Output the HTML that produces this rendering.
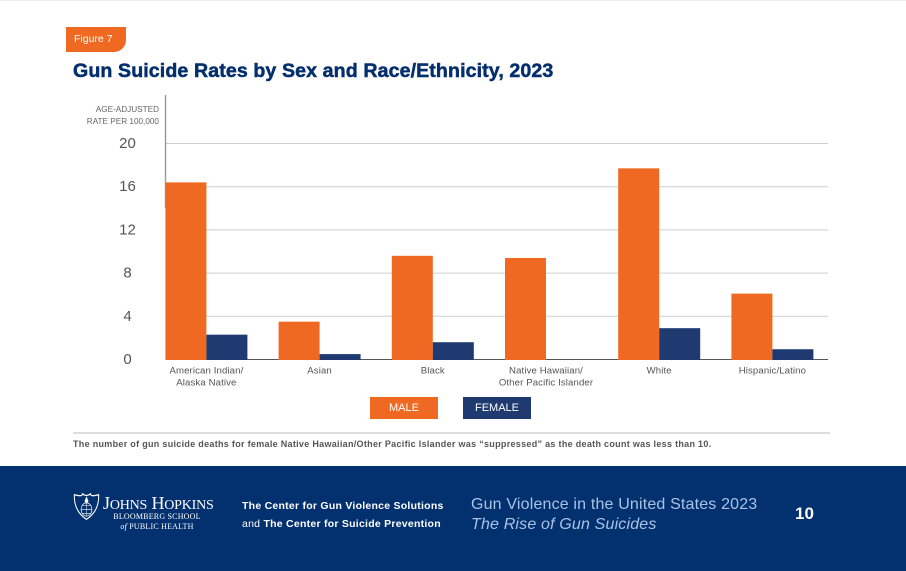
<!DOCTYPE html>
<html lang="en">
<head>
<meta charset="utf-8">
<title>Gun Suicide Rates by Sex and Race/Ethnicity, 2023</title>
<style>
html,body{margin:0;padding:0;background:#fff;}
#page{position:relative;width:906px;height:571px;overflow:hidden;background:#fff;font-family:"Liberation Sans",sans-serif;}
#page div{position:absolute;white-space:nowrap;}
svg{position:absolute;left:0;top:0;}
svg text{font-family:"Liberation Sans",sans-serif;}
</style>
</head>
<body>
<div id="page">
  <div style="left:0;top:0;width:906px;height:1px;background:#eee;"></div>
  <div style="left:66px;top:27px;width:60px;height:25px;background:#f06923;border-radius:0 0 12px 0;color:#fff;font-size:10.5px;line-height:25px;text-indent:8px;">Figure 7</div>
  <div style="left:73px;top:59.5px;font-size:19.6px;line-height:22px;font-weight:bold;color:#042f6e;-webkit-text-stroke:0.5px #042f6e;letter-spacing:0.1px;">Gun Suicide Rates by Sex and Race/Ethnicity, 2023</div>

  <svg id="chart" width="906" height="430" viewBox="0 0 906 430"></svg>

  <div style="left:370px;top:397px;width:68px;height:22px;background:#f06923;color:#fff;font-size:11px;line-height:22px;text-align:center;">MALE</div>
  <div style="left:463px;top:397px;width:68px;height:22px;background:#1f3a70;color:#fff;font-size:11px;line-height:22px;text-align:center;">FEMALE</div>

  <div style="left:73px;top:432px;width:757px;height:2px;background:#ddd;"></div>
  <div style="left:73px;top:438px;font-size:9px;line-height:13px;font-weight:bold;color:#555;letter-spacing:0.3px;">The number of gun suicide deaths for female Native Hawaiian/Other Pacific Islander was “suppressed” as the death count was less than 10.</div>

  <div style="left:0;top:466px;width:906px;height:105px;background:#03316f;">
    <svg width="27" height="28" viewBox="0 0 40 34" preserveAspectRatio="none" style="left:72.5px;top:26.5px;">
      <path d="M2 2 Q14 5 14 1 Q20 5 26 1 Q26 5 38 2 Q39 22 20 32 Q1 22 2 2 Z" fill="none" stroke="#fff" stroke-width="1.5"/>
      <path d="M20 4 L23 10 L20 13 L17 10 Z" fill="#fff"/>
      <circle cx="20" cy="20" r="8" fill="none" stroke="#fff" stroke-width="1"/>
      <path d="M12 20 H28 M20 12 V28 M14 15 H26 M14 25 H26" stroke="#fff" stroke-width="0.7" fill="none"/>
    </svg>
    <div style="left:103px;top:27px;font-family:'Liberation Serif',serif;font-size:18px;line-height:20px;color:#fff;letter-spacing:-0.2px;">J<span style="font-size:14px;">OHNS</span> H<span style="font-size:14px;">OPKINS</span></div>
    <div style="left:107px;top:46px;width:100px;text-align:center;font-family:'Liberation Serif',serif;font-size:8px;line-height:9.5px;color:#fff;letter-spacing:0.2px;white-space:normal;">BLOOMBERG SCHOOL<br><i>of</i> PUBLIC HEALTH</div>
    <div style="left:242px;top:31px;font-size:10.5px;line-height:18px;color:#fff;letter-spacing:0.25px;"><b>The Center for Gun Violence Solutions</b><br>and <b>The Center for Suicide Prevention</b></div>
    <div style="left:471px;top:29px;font-size:16px;line-height:20px;color:#a9c3e6;letter-spacing:0.17px;">Gun Violence in the United States 2023<br><i>The Rise of Gun Suicides</i></div>
    <div style="left:795px;top:37px;font-size:17px;line-height:22px;font-weight:bold;color:#fff;">10</div>
  </div>
</div>

<script>
const categories = [
  ["American Indian/", "Alaska Native"],
  ["Asian"],
  ["Black"],
  ["Native Hawaiian/", "Other Pacific Islander"],
  ["White"],
  ["Hispanic/Latino"]
];
const maleValues = [16.4, 3.5, 9.6, 9.4, 17.7, 6.1];
const femaleValues = [2.3, 0.5, 1.6, null, 2.9, 0.95];
const yTicks = [0, 4, 8, 12, 16, 20];
const yAxisTitle = ["AGE-ADJUSTED", "RATE PER 100,000"];

const svgNS = "http://www.w3.org/2000/svg";
const chart = document.getElementById("chart");
const plotLeft = 166, plotRight = 828, baseY = 359.5, topY = 143.5, yMax = 20;
const bandStart = 149.8, bandStep = 113.2, barW = 41;

function yScale(v) { return baseY - (v / yMax) * (baseY - topY); }
function xCenter(i) { return bandStart + bandStep * (i + 0.5); }
function make(tag, attrs, text) {
  const el = document.createElementNS(svgNS, tag);
  for (const k in attrs) el.setAttribute(k, attrs[k]);
  if (text !== undefined) el.textContent = text;
  chart.appendChild(el);
  return el;
}

yTicks.forEach(function (t) {
  if (t !== 0) {
    const grid = make("line", { x1: plotLeft, x2: plotRight, y1: yScale(t), y2: yScale(t), stroke: "#cfcfcf", "stroke-width": 1 });
    
    
  }
  const label = make("text", { x: 127.5, y: yScale(t) + 4.5, "text-anchor": "middle", "font-size": 15, fill: "#555" }, String(t));
  
  
});

yAxisTitle.forEach(function (line, i) {
  const title = make("text", { x: 159, y: 112 + i * 12, "text-anchor": "end", "font-size": 8.2, fill: "#666" }, line);
  
  
});

const yAxis = make("line", { x1: 165.5, x2: 165.5, y1: 95, y2: 208, stroke: "#999", "stroke-width": 1.4 });



const xAxis = make("line", { x1: plotLeft, x2: plotRight, y1: baseY, y2: baseY, stroke: "#555", "stroke-width": 1 });



categories.forEach(function (lines, i) {
  const c = xCenter(i);
  if (maleValues[i] !== null) {
    const top = yScale(maleValues[i]);
    const bar = make("rect", { x: c - barW, y: top, width: barW, height: baseY + 0.5 - top, fill: "#f06923" });
    
    
  }
  if (femaleValues[i] !== null) {
    const top = yScale(femaleValues[i]);
    const bar = make("rect", { x: c, y: top, width: barW, height: baseY + 0.5 - top, fill: "#1f3a70" });
    
    
  }
  lines.forEach(function (line, j) {
    const label = make("text", { x: c, y: 373.5 + j * 12, "text-anchor": "middle", "font-size": 9.6, "letter-spacing": 0.12, fill: "#555" }, line);
    
    
  });
});
</script>
</body>
</html>
